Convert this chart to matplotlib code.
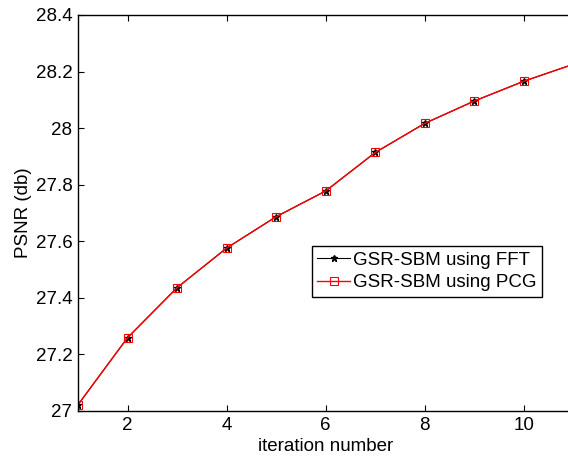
import numpy as np
import matplotlib
matplotlib.use("Agg")
import matplotlib.pyplot as plt

plt.rcParams['font.family'] = ['Liberation Sans', 'DejaVu Sans']

# data
iterations = [1, 2, 3, 4, 5, 6, 7, 8, 9, 10, 11]
psnrFFT = [27.022, 27.259, 27.436, 27.576, 27.687, 27.778, 27.914, 28.017, 28.096, 28.166, 28.226]
psnrPCG = [27.022, 27.259, 27.436, 27.576, 27.687, 27.778, 27.914, 28.017, 28.096, 28.166, 28.226]
xTicks = [2, 4, 6, 8, 10]
yTicks = [27, 27.2, 27.4, 27.6, 27.8, 28, 28.2, 28.4]
yTickLabels = ['27', '27.2', '27.4', '27.6', '27.8', '28', '28.2', '28.4']

fig = plt.figure(figsize=(5.68, 4.57), dpi=100)
ax = fig.add_axes([0.1373, 0.1007, 0.8724, 0.8665])

ax.plot(iterations, psnrFFT, color='black', linewidth=0.8, marker='*',
        markersize=5, label='GSR-SBM using FFT')
ax.plot(iterations, psnrPCG, color='red', linewidth=1.0, marker='s',
        markersize=6, markerfacecolor='none', markeredgecolor='red',
        markeredgewidth=0.8, label='GSR-SBM using PCG')

ax.set_xlim(1, 11)
ax.set_ylim(27, 28.4)
ax.set_xticks(xTicks)
ax.set_yticks(yTicks)
ax.set_yticklabels(yTickLabels)
ax.tick_params(direction='in', length=4, width=0.8, labelsize=13.5,
               top=True, right=True, pad=4)
for spine in ax.spines.values():
    spine.set_linewidth(1.0)

ax.set_xlabel('iteration number', fontsize=13.5, labelpad=3)
ax.set_ylabel('PSNR (db)', fontsize=13.5, labelpad=3)

leg = ax.legend(loc='lower left', bbox_to_anchor=(0.472, 0.288), borderaxespad=0,
                fontsize=13.5, fancybox=False, framealpha=1, edgecolor='black',
                handlelength=1.75, handletextpad=0.15, borderpad=0.3,
                labelspacing=0.3)
leg.get_frame().set_linewidth(1.0)

fig.savefig('out.png', dpi=100)
